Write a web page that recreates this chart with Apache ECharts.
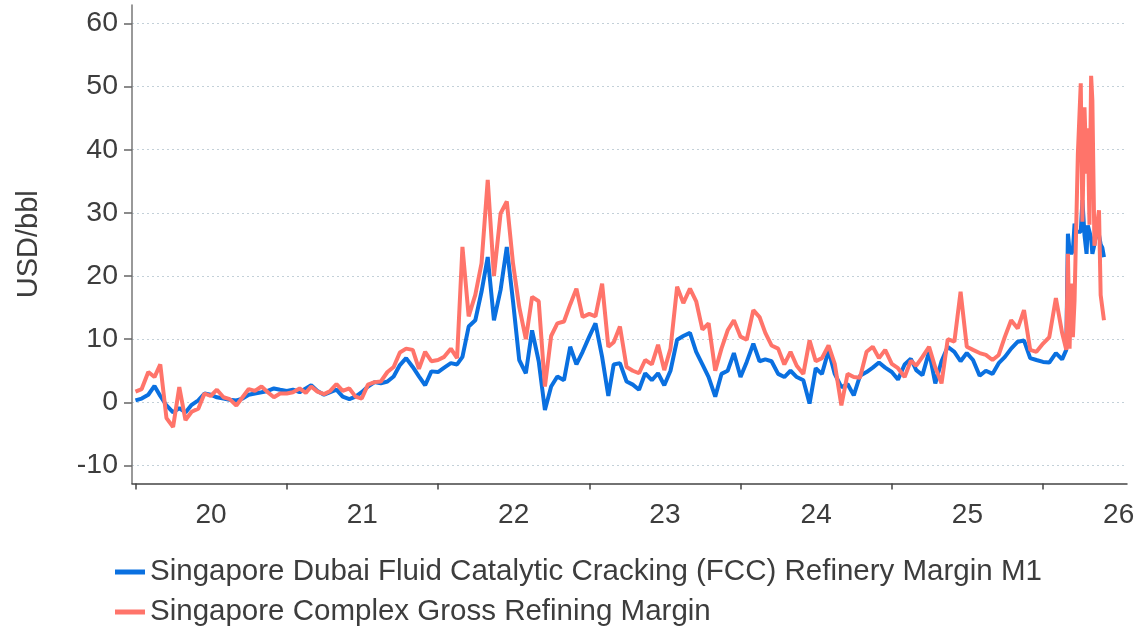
<!DOCTYPE html>
<html><head><meta charset="utf-8">
<script src="https://cdn.jsdelivr.net/npm/echarts@6/dist/echarts.min.js"></script>
<style>html,body{margin:0;padding:0;background:#fff}#c{width:1140px;height:628px}</style>
</head><body><div id="c"></div>
<script>
const dates = [
'2020-01-01','2020-01-16','2020-02-01','2020-02-16','2020-03-01','2020-03-16','2020-04-01','2020-04-16','2020-05-01','2020-05-16','2020-06-01','2020-06-16','2020-07-01','2020-07-16','2020-08-01','2020-08-16','2020-09-01','2020-09-16','2020-10-01','2020-10-16','2020-11-01','2020-11-16','2020-12-01','2020-12-16',
'2021-01-01','2021-01-16','2021-02-01','2021-02-16','2021-03-01','2021-03-16','2021-04-01','2021-04-16','2021-05-01','2021-05-16','2021-06-01','2021-06-16','2021-07-01','2021-07-16','2021-08-01','2021-08-16','2021-09-01','2021-09-16','2021-10-01','2021-10-16','2021-11-01','2021-11-16','2021-12-01','2021-12-16',
'2022-01-01','2022-01-16','2022-02-01','2022-02-16','2022-03-01','2022-03-16','2022-04-01','2022-04-16','2022-05-01','2022-05-16','2022-06-01','2022-06-16','2022-07-01','2022-07-16','2022-08-01','2022-08-16','2022-09-01','2022-09-16','2022-10-01','2022-10-16','2022-11-01','2022-11-16','2022-12-01','2022-12-16',
'2023-01-01','2023-01-16','2023-02-01','2023-02-16','2023-03-01','2023-03-16','2023-04-01','2023-04-16','2023-05-01','2023-05-16','2023-06-01','2023-06-16','2023-07-01','2023-07-16','2023-08-01','2023-08-16','2023-09-01','2023-09-16','2023-10-01','2023-10-16','2023-11-01','2023-11-16','2023-12-01','2023-12-16',
'2024-01-01','2024-01-16','2024-02-01','2024-02-16','2024-03-01','2024-03-16','2024-04-01','2024-04-16','2024-05-01','2024-05-16','2024-06-01','2024-06-16','2024-07-01','2024-07-16','2024-08-01','2024-08-16','2024-09-01','2024-09-16','2024-10-01','2024-10-16','2024-11-01','2024-11-16','2024-12-01','2024-12-16',
'2025-01-01','2025-01-16','2025-02-01','2025-02-16','2025-03-01','2025-03-16','2025-04-01','2025-04-16','2025-05-01','2025-05-16','2025-06-01','2025-06-16','2025-07-01','2025-07-16','2025-08-01','2025-08-16','2025-09-01','2025-09-16','2025-10-01','2025-10-16','2025-11-01','2025-11-16','2025-12-01','2025-12-16',
'2026-01-01','2026-01-16','2026-02-01','2026-02-16','2026-02-26','2026-03-02','2026-03-06','2026-03-10','2026-03-14','2026-03-18','2026-03-22','2026-03-26','2026-04-02','2026-04-06','2026-04-11','2026-04-16','2026-04-19','2026-04-23','2026-04-27','2026-04-30','2026-05-05','2026-05-09','2026-05-16','2026-05-20','2026-05-24','2026-05-28'
];

const fccMargin = [
0.3,0.6,1.2,2.6,1.0,-0.5,-1.6,-0.9,-1.6,-0.4,0.3,1.4,1.2,0.8,0.6,0.4,0.3,0.6,1.2,1.4,1.6,1.8,2.2,2.0,
1.8,2.0,1.6,2.2,2.7,1.8,1.2,1.6,2.0,0.9,0.5,0.9,1.6,2.5,3.2,3.0,3.3,4.1,5.9,7.0,5.6,4.1,2.7,4.9,
4.8,5.5,6.2,6.0,7.2,12.0,13.0,17.5,23.0,13.0,17.8,24.6,16.0,6.7,4.6,11.4,6.5,-1.2,2.5,4.1,3.5,8.8,6.0,8.0,
10.4,12.5,7.2,1.0,6.0,6.2,3.3,2.8,2.0,4.6,3.5,4.6,2.7,5.0,9.9,10.5,11.0,8.0,6.0,4.0,0.9,4.5,5.0,7.8,
4.0,6.4,9.3,6.5,6.8,6.5,4.5,4.0,5.0,4.0,3.5,-0.2,5.4,4.5,8.2,4.5,2.4,2.9,1.1,4.2,4.8,5.5,6.3,5.5,
4.8,3.6,6.0,6.9,5.1,4.3,8.0,3.0,6.5,8.8,8.0,6.5,7.8,6.7,4.2,5.0,4.5,6.2,7.2,8.5,9.6,9.8,7.0,6.7,
6.4,6.3,7.8,6.8,8.3,26.7,24.0,23.5,24.0,28.3,27.0,27.0,27.0,32.0,26.5,23.5,28.0,27.0,26.0,23.5,25.0,27.0,26.5,25.0,24.5,23.0
];

const complexMargin = [
1.7,2.1,4.8,4.0,6.0,-2.5,-3.9,2.4,-2.8,-1.5,-1.0,1.4,1.0,2.0,0.8,0.5,-0.5,0.8,2.1,1.8,2.5,1.6,0.8,1.4,
1.4,1.6,2.2,1.5,2.5,1.7,1.3,1.8,2.9,1.8,2.2,0.9,0.6,2.8,3.2,3.3,4.8,5.6,7.9,8.5,8.3,5.3,8.0,6.5,
6.7,7.2,8.5,7.0,24.6,13.6,17.0,22.0,35.2,20.0,29.9,31.8,22.0,15.1,10.0,16.7,16.0,2.5,10.5,12.5,12.8,15.5,18.0,13.5,
14.0,13.6,18.8,8.8,9.5,12.0,5.6,5.0,4.6,6.7,6.0,9.1,5.1,8.5,18.3,15.7,18.0,16.0,11.5,12.5,5.0,8.5,11.4,13.0,
10.4,9.9,14.6,13.5,11.0,9.0,8.5,6.0,8.0,5.8,4.5,9.8,6.5,7.0,9.0,6.1,-0.5,4.5,4.0,3.9,8.0,8.8,7.0,8.3,
6.1,5.4,4.0,6.6,5.8,7.2,8.8,5.5,3.0,10.0,9.6,17.5,8.8,8.3,7.8,7.5,6.7,7.5,10.4,13.0,11.7,14.6,8.3,8.0,
9.3,10.3,16.5,11.0,8.3,23.5,8.5,18.8,10.3,16.1,16.0,39.3,50.5,28.6,46.7,36.2,43.4,28.1,51.7,47.8,24.8,27.0,30.4,17.0,17.1,13.0
];

const seriesNames = ['Singapore Dubai Fluid Catalytic Cracking (FCC) Refinery Margin M1', 'Singapore Complex Gross Refining Margin'];
const yTicks = [-10, 0, 10, 20, 30, 40, 50, 60];
const yearTicks = [2020, 2021, 2022, 2023, 2024, 2025, 2026];
const yearLabels = ['20', '21', '22', '23', '24', '25', '26'];

function toYear(s) {
  const p = s.split('-').map(Number);
  const t = Date.UTC(p[0], p[1] - 1, p[2]), a = Date.UTC(p[0], 0, 1), b = Date.UTC(p[0] + 1, 0, 1);
  return p[0] + (t - a) / (b - a);
}
const xs = dates.map(toYear);
const labelPos = yearTicks.map(y => y + 0.5);

const FONT = "'Liberation Sans', Arial, sans-serif";
const TXT = '#3d3d3d';
const chart = echarts.init(document.getElementById('c'), null, {renderer: 'canvas'});
chart.setOption({
  animation: false,
  backgroundColor: '#ffffff',
  textStyle: {fontFamily: FONT},
  grid: {left: 132, right: 13, top: 5, bottom: 144.5, containLabel: false, outerBoundsMode: 'none'},
  legend: {
    orient: 'vertical', left: 115, top: 556, itemGap: 8, padding: 0,
    icon: 'rect', itemWidth: 30, itemHeight: 5,
    textStyle: {fontSize: 29.5, color: TXT, fontFamily: FONT, lineHeight: 32},
    data: seriesNames
  },
  xAxis: {
    type: 'value', min: 2019.977, max: 2026.555,
    axisLine: {show: true, onZero: false, lineStyle: {color: '#444', width: 1.5}},
    axisTick: {show: true, customValues: yearTicks, length: 6, lineStyle: {color: '#444', width: 1.5}},
    axisLabel: {
      customValues: labelPos, fontSize: 28, color: TXT, margin: 18, fontFamily: FONT,
      formatter: v => yearLabels[yearTicks.indexOf(Math.floor(v))]
    },
    splitLine: {show: false}
  },
  yAxis: {
    type: 'value', min: -12.85, max: 62.9,
    name: 'USD/bbl', nameLocation: 'middle', nameGap: 89, nameRotate: 90,
    nameTextStyle: {fontSize: 29, color: TXT, fontFamily: FONT},
    axisLine: {show: true, onZero: false, lineStyle: {color: '#777', width: 1.5}},
    axisTick: {show: true, customValues: yTicks, length: 8, lineStyle: {color: '#666', width: 1.5}},
    axisLabel: {customValues: yTicks, fontSize: 28.5, color: TXT, margin: 14, fontFamily: FONT},
    splitLine: {show: true, lineStyle: {color: '#c3d0d8', type: [2, 3], width: 1}}
  },
  series: [
    {name: seriesNames[0], type: 'line', showSymbol: false, symbol: 'none',
     lineStyle: {color: '#0a70e0', width: 4}, itemStyle: {color: '#0a70e0'},
     data: xs.map((x, i) => [x, fccMargin[i]])},
    {name: seriesNames[1], type: 'line', showSymbol: false, symbol: 'none',
     lineStyle: {color: '#ff746a', width: 4}, itemStyle: {color: '#ff746a'},
     data: xs.map((x, i) => [x, complexMargin[i]])}
  ]
});
</script>
</body></html>
